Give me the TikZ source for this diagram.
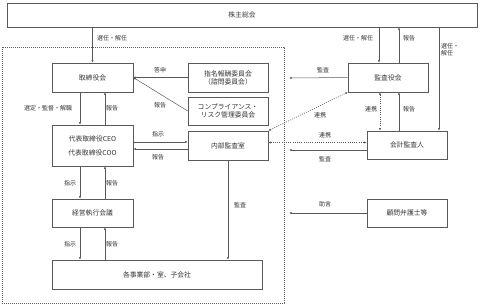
\documentclass[tikz,border=0pt]{standalone}
\usepackage{fontspec}
\setmainfont{Noto Sans CJK JP}
\usetikzlibrary{arrows.meta,calc}
\begin{document}
\begin{tikzpicture}[x=1pt,y=-1pt,
  box/.style={draw=black!65,line width=0.6pt,rectangle,inner sep=0pt,font=\fontsize{6.8}{8}\selectfont,text=black!80},
  lbl/.style={inner sep=0pt,font=\fontsize{6}{7}\selectfont,text=black!80},
  arr/.style={draw=black!65,line width=0.5pt,-{Latex[length=2.6pt,width=2.2pt]}},
  darr/.style={draw=black!65,line width=0.6pt,dash pattern=on 1pt off 1.2pt,{Latex[length=2.6pt,width=2.2pt]}-{Latex[length=2.6pt,width=2.2pt]}}]
\useasboundingbox (0,0) rectangle (480,306);
% dotted region
\draw[black!65,line width=0.6pt,dash pattern=on 0.8pt off 1.2pt] (2,47) rectangle (284,303);
% nodes
\node[box,minimum width=470pt,minimum height=24pt] (kabu) at (242,15) {株主総会};
\node[box,minimum width=81pt,minimum height=29pt] (tori) at (92.5,77.5) {取締役会};
\node[box,minimum width=80pt,minimum height=29pt,align=center] (shimei) at (228,77.5) {指名報酬委員会\\（諮問委員会）};
\node[box,minimum width=80pt,minimum height=28pt,align=center] (comp) at (228,111) {コンプライアンス・\\リスク管理委員会};
\node[box,minimum width=80pt,minimum height=29pt] (kansa) at (388,77.5) {監査役会};
\node[box,minimum width=81pt,minimum height=41pt,align=center] (ceo) at (92.5,145.5) {代表取締役CEO\\[6pt]代表取締役COO};
\node[box,minimum width=80pt,minimum height=29pt] (naibu) at (228,145.5) {内部監査室};
\node[box,minimum width=80pt,minimum height=28pt] (kaikei) at (407,145) {会計監査人};
\node[box,minimum width=81pt,minimum height=28pt] (keiei) at (92.5,213) {経営執行会議};
\node[box,minimum width=210pt,minimum height=29pt] (jigyo) at (157,274.5) {各事業部・室、子会社};
\node[box,minimum width=80pt,minimum height=28pt] (komon) at (407,213) {顧問弁護士等};
% boundary coordinates
\coordinate (b1) at (289,78);
\coordinate (b2) at (289,150);
\coordinate (b3) at (289,213);
% connectors
\draw[arr] (kabu.south -| tori.north) -- (tori.north);
\node[lbl] (l1) at (112,38) {選任・解任};
\draw[arr] (shimei.west) -- (tori.east);
\node[lbl] (l2) at (160,70) {答申};
\draw[arr] (comp.west) -- (tori.east);
\node[lbl] (l3) at (160,105) {報告};
\draw[arr] (kansa.west) -- (b1);
\node[lbl] (l4) at (323,70) {監査};
\draw[arr] (kabu.south -| 379,0) -- (kansa.north -| 379,0);
\node[lbl] (l5) at (358,38) {選任・解任};
\draw[arr] (kansa.north -| 399,0) -- (kabu.south -| 399,0);
\node[lbl] (l6) at (409,38) {報告};
\draw[arr] (kabu.south -| 439,0) -- (kaikei.north -| 439,0);
\node[lbl,align=left] (l7) at (450,50) {選任・\\解任};
\draw[darr] (kansa.south -| 380,0) -- (kaikei.north -| 380,0);
\node[lbl] (l8) at (371,109) {連携};
\draw[arr] (kaikei.north -| 399,0) -- (kansa.south -| 399,0);
\node[lbl] (l9) at (409,109) {報告};
\draw[darr] (naibu.north east) -- (kansa.south west);
\node[lbl] (l10) at (320,115) {連携};
\draw[darr] (naibu.east |- 0,142.5) -- (kaikei.west |- 0,142.5);
\node[lbl] (l11) at (325,135) {連携};
\draw[arr] (kaikei.west |- b2) -- (b2);
\node[lbl] (l12) at (325,159) {監査};
\draw[arr] (tori.south -| 80,0) -- (ceo.north -| 80,0);
\node[lbl] (l13) at (48,108) {選定・監督・解職};
\draw[arr] (ceo.north -| 105,0) -- (tori.south -| 105,0);
\node[lbl] (l14) at (112,108) {報告};
\draw[arr] (ceo.east |- 0,142) -- (naibu.west |- 0,142);
\node[lbl] (l15) at (158,134) {指示};
\draw[arr] (naibu.west |- 0,149) -- (ceo.east |- 0,149);
\node[lbl] (l16) at (158,157) {報告};
\draw[arr] (ceo.south -| 80,0) -- (keiei.north -| 80,0);
\node[lbl] (l17) at (70,183) {指示};
\draw[arr] (keiei.north -| 105,0) -- (ceo.south -| 105,0);
\node[lbl] (l18) at (112,183) {報告};
\draw[arr] (keiei.south -| 80,0) -- (jigyo.north -| 80,0);
\node[lbl] (l19) at (70,244) {指示};
\draw[arr] (jigyo.north -| 105,0) -- (keiei.south -| 105,0);
\node[lbl] (l20) at (112,244) {報告};
\draw[arr] (naibu.south -| 228,0) -- (jigyo.north -| 228,0);
\node[lbl] (l21) at (240,205) {監査};
\draw[arr] (komon.west) -- (b3);
\node[lbl] (l22) at (325,204) {助言};
\end{tikzpicture}
\end{document}
